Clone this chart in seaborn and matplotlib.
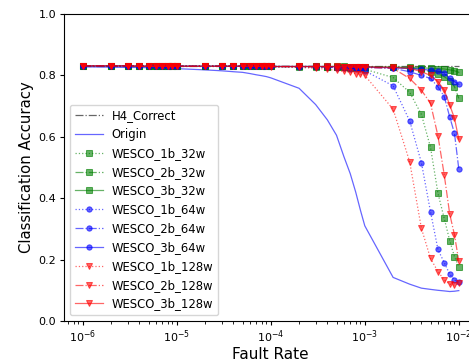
import matplotlib
matplotlib.use('Agg')
import matplotlib.pyplot as plt
import seaborn as sns

# Fault rates sampled along the x axis (1..9 x each decade, then 1e-2)
fault_rates = [
    1e-6, 2e-6, 3e-6, 4e-6, 5e-6, 6e-6, 7e-6, 8e-6, 9e-6,
    1e-5, 2e-5, 3e-5, 4e-5, 5e-5, 6e-5, 7e-5, 8e-5, 9e-5,
    1e-4, 2e-4, 3e-4, 4e-4, 5e-4, 6e-4, 7e-4, 8e-4, 9e-4,
    1e-3, 2e-3, 3e-3, 4e-3, 5e-3, 6e-3, 7e-3, 8e-3, 9e-3,
    1e-2,
]

h4_accuracy = 0.831

origin = [
    0.828, 0.827, 0.826, 0.826, 0.825, 0.824, 0.824, 0.823, 0.823,
    0.822, 0.818, 0.815, 0.812, 0.810, 0.806, 0.802, 0.799, 0.796,
    0.792, 0.758, 0.705, 0.655, 0.605, 0.535, 0.480, 0.420, 0.360,
    0.310, 0.142, 0.120, 0.107, 0.103, 0.100, 0.098, 0.096, 0.097,
    0.099,
]

# all WESCO variants sit on the same plateau for the low fault rates (1e-6 .. 9e-5)
plateau = [
    0.831, 0.831, 0.831, 0.830, 0.830, 0.830, 0.830, 0.830, 0.830,
    0.830, 0.830, 0.830, 0.830, 0.830, 0.830, 0.830, 0.829, 0.829,
]

# tails from 1e-4 to 1e-2
w1b_32w = [0.829, 0.828, 0.828, 0.827, 0.826, 0.826, 0.825, 0.824, 0.823,
           0.820, 0.793, 0.745, 0.673, 0.566, 0.416, 0.334, 0.262, 0.209, 0.177]
w2b_32w = [0.829, 0.829, 0.829, 0.828, 0.828, 0.828, 0.828, 0.827, 0.827,
           0.827, 0.826, 0.824, 0.820, 0.812, 0.805, 0.796, 0.783, 0.763, 0.725]
w3b_32w = [0.829, 0.829, 0.829, 0.829, 0.829, 0.829, 0.828, 0.828, 0.828,
           0.828, 0.827, 0.826, 0.825, 0.823, 0.822, 0.821, 0.818, 0.815, 0.810]
w1b_64w = [0.829, 0.828, 0.827, 0.826, 0.825, 0.824, 0.822, 0.821, 0.820,
           0.815, 0.766, 0.652, 0.516, 0.356, 0.233, 0.190, 0.153, 0.134, 0.126]
w2b_64w = [0.829, 0.829, 0.829, 0.828, 0.828, 0.828, 0.827, 0.827, 0.827,
           0.826, 0.823, 0.812, 0.800, 0.790, 0.763, 0.731, 0.665, 0.611, 0.495]
w3b_64w = [0.829, 0.829, 0.829, 0.829, 0.828, 0.828, 0.828, 0.828, 0.828,
           0.827, 0.825, 0.822, 0.820, 0.817, 0.814, 0.807, 0.790, 0.780, 0.771]
w1b_128w = [0.828, 0.826, 0.823, 0.820, 0.816, 0.813, 0.810, 0.806, 0.803,
            0.800, 0.690, 0.519, 0.302, 0.204, 0.161, 0.134, 0.120, 0.117, 0.123]
w2b_128w = [0.829, 0.829, 0.828, 0.828, 0.828, 0.827, 0.827, 0.827, 0.826,
            0.826, 0.823, 0.790, 0.752, 0.709, 0.603, 0.476, 0.349, 0.280, 0.195]
w3b_128w = [0.829, 0.829, 0.829, 0.829, 0.829, 0.828, 0.828, 0.828, 0.828,
            0.828, 0.826, 0.823, 0.812, 0.800, 0.780, 0.752, 0.704, 0.660, 0.592]

series = [
    ("WESCO_1b_32w", w1b_32w, "green", ":", "s"),
    ("WESCO_2b_32w", w2b_32w, "green", "-.", "s"),
    ("WESCO_3b_32w", w3b_32w, "green", "-", "s"),
    ("WESCO_1b_64w", w1b_64w, "blue", ":", "o"),
    ("WESCO_2b_64w", w2b_64w, "blue", "-.", "o"),
    ("WESCO_3b_64w", w3b_64w, "blue", "-", "o"),
    ("WESCO_1b_128w", w1b_128w, "red", ":", "v"),
    ("WESCO_2b_128w", w2b_128w, "red", "-.", "v"),
    ("WESCO_3b_128w", w3b_128w, "red", "-", "v"),
]

fig = plt.figure(figsize=(4.69, 3.62), dpi=100)
# axes run a little past the right edge, like the cropped original
ax = fig.add_axes([64 / 469, 41 / 362, 413.6 / 469, 307 / 362])

sns.lineplot(x=[fault_rates[0], fault_rates[-1]], y=[h4_accuracy, h4_accuracy], ax=ax,
             color="black", alpha=0.6, linestyle="-.", linewidth=0.9, label="H4_Correct")
sns.lineplot(x=fault_rates, y=origin, ax=ax, color="blue", alpha=0.6,
             linewidth=0.9, label="Origin")

for name, tail, color, ls, mk in series:
    sns.lineplot(x=fault_rates, y=plateau + tail, ax=ax, color=color, alpha=0.6,
                 linestyle=ls, linewidth=0.9, marker=mk, markersize=3.8,
                 markeredgecolor=color, label=name)

ax.set_xscale("log")
ax.set_xlim(10 ** -6.2, 10 ** -1.8)
ax.set_ylim(0.0, 1.0)
ax.set_xlabel("Fault Rate", fontsize=11, labelpad=1)
ax.set_ylabel("Classification Accuracy", fontsize=10.7, labelpad=3)
ax.tick_params(labelsize=8, length=3, pad=2.5)
ax.tick_params(which="minor", length=1.8)
ax.legend(loc="lower left", fontsize=8.4, labelspacing=0.5, handlelength=2.4)

fig.savefig("out.png", dpi=100, facecolor="white")
